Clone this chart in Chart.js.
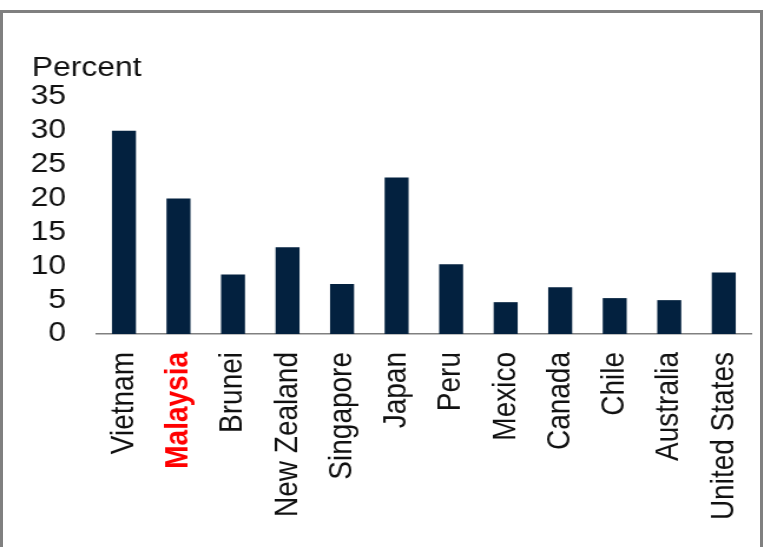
<!DOCTYPE html>
<html>
<head>
<meta charset="utf-8">
<script src="https://cdn.jsdelivr.net/npm/chart.js@4"></script>
<style>
  html, body { margin: 0; padding: 0; background: #fff; overflow: hidden; }
  #frame {
    position: absolute; left: 0; top: 10px; width: 757px; height: 560px;
    border-left: 3px solid #808080; border-top: 3px solid #808080; border-right: 3px solid #808080;
  }
  #myChart { position: absolute; left: 0; top: 0; transform: scaleX(1.179); transform-origin: 0 0; }
</style>
</head>
<body>
<div id="frame"></div>
<canvas id="myChart" width="648" height="547"></canvas>
<script>
const countries = ["Vietnam", "Malaysia", "Brunei", "New Zealand", "Singapore", "Japan",
  "Peru", "Mexico", "Canada", "Chile", "Australia", "United States"];
const percent = [30, 20, 8.8, 12.8, 7.4, 23.1, 10.3, 4.7, 6.9, 5.3, 5.0, 9.1];
const yTicks = [0, 5, 10, 15, 20, 25, 30, 35];
const unitLabel = "Percent";

const fontFamily = '"Liberation Sans", Arial, sans-serif';

// "Percent" label sitting above the y ticks
const unitPlugin = {
  id: "unitLabel",
  afterDraw(chart) {
    const c = chart.ctx;
    c.save();
    c.font = "27px " + fontFamily;
    c.fillStyle = "#111";
    c.textAlign = "left";
    c.textBaseline = "alphabetic";
    c.fillText(unitLabel, 27, 76);
    c.restore();
  },
};

const ctx = document.getElementById("myChart");

myBarChart = new Chart(ctx, {
  type: "bar",
  data: {
    labels: countries,
    datasets: [
      {
        label: unitLabel,
        data: percent,
        backgroundColor: "#03213f",
        borderWidth: 0,
        barPercentage: 0.44,
        categoryPercentage: 1,
      },
    ],
  },
  options: {
    responsive: false,
    animation: false,
    devicePixelRatio: 1,
    layout: { padding: { top: 97, left: 0, right: 11, bottom: 0 } },
    scales: {
      x: {
        grid: { display: false, drawTicks: false },
        border: { display: true, color: "#808080", width: 1.5 },
        ticks: {
          minRotation: 90,
          maxRotation: 90,
          autoSkip: false,
          padding: 18,
          color: (c) => (c.index === 1 ? "#ff0000" : "#111"),
          font: (c) => ({ family: fontFamily, size: 28, weight: c.index === 1 ? "bold" : "normal" }),
        },
        afterFit(scale) {
          scale.height = 213;
          scale.paddingLeft = 0;
          scale.paddingRight = 0;
        },
      },
      y: {
        min: 0,
        max: 35,
        grid: { display: false, drawTicks: false },
        border: { display: false },
        afterBuildTicks(scale) {
          scale.ticks = yTicks.map((v) => ({ value: v }));
        },
        ticks: {
          autoSkip: false,
          padding: 26,
          color: "#111",
          font: { family: fontFamily, size: 27 },
        },
        afterFit(scale) {
          scale.width = 82;
          scale.paddingTop = 0;
          scale.paddingBottom = 0;
        },
      },
    },
    plugins: {
      legend: { display: false },
      tooltip: { enabled: false },
    },
  },
  plugins: [unitPlugin],
});
</script>
</body>
</html>
